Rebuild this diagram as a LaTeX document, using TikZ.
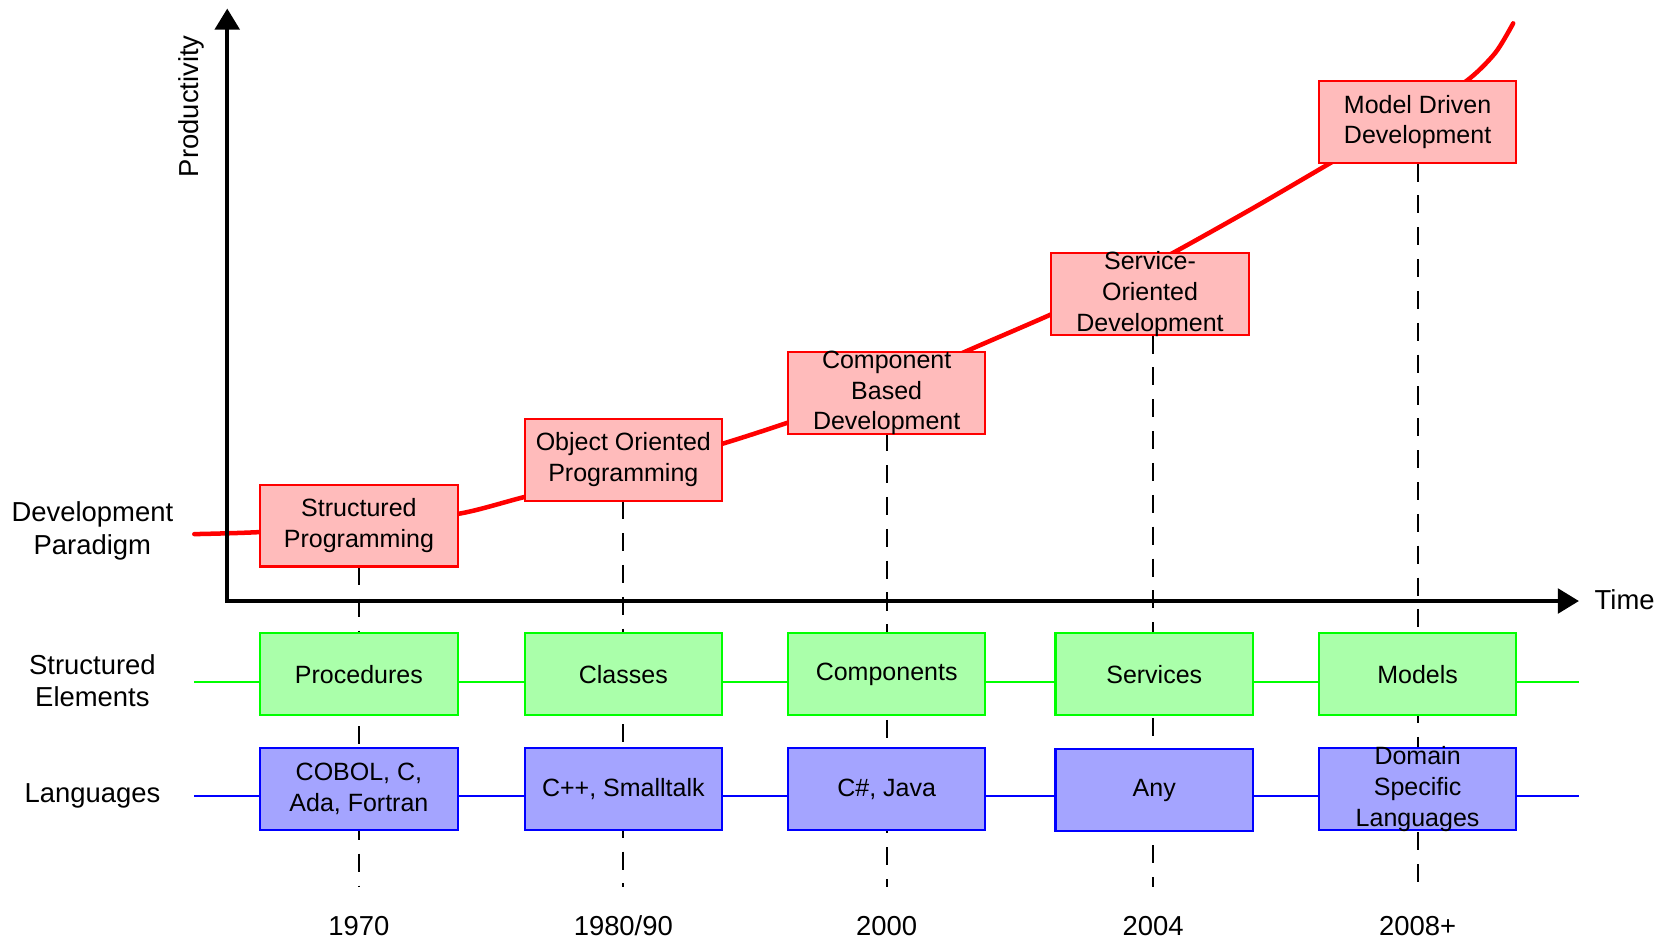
\documentclass[tikz,border=0pt]{standalone}
\usepackage{fontspec}
\setmainfont{Liberation Sans}
\usetikzlibrary{arrows.meta}

\definecolor{paradigmfill}{HTML}{FFBBBB}
\definecolor{elementfill}{HTML}{AAFFAA}
\definecolor{elementline}{HTML}{00FF00}
\definecolor{languagefill}{HTML}{A4A4FF}

\begin{document}
\begin{tikzpicture}[x=0.02cm, y=-0.02cm,
	every node/.style={font=\fontsize{14.7}{17.5}\selectfont, align=center},
	box/.style={draw, line width=0.4mm, minimum width=3.72cm, minimum height=1.54cm, inner sep=1pt, font=\fontsize{13.4}{16.5}\selectfont},
	paradigm/.style={box, draw=red, fill=paradigmfill},
	element/.style={box, draw=elementline, fill=elementfill},
	language/.style={box, draw=blue, fill=languagefill},
	tight/.style={inner ysep=-3pt},
	axis/.style={line width=0.85mm, {Triangle[length=4mm,width=4.6mm]}-{Triangle[length=4mm,width=4.6mm]}},
	guide/.style={line width=0.38mm, dash pattern=on 3.4mm off 2.6mm},
	trend/.style={red, line width=0.85mm, line cap=round}]

	\useasboundingbox (0,0) rectangle (1568,886);

	% Row labels on the left
	\node (paradigmlabel) at (87,500) {Development\\Paradigm};
	\node (elementlabel) at (87,641) {Structured\\Elements};
	\node (languagelabel) at (87,750) {Languages};
	\node[rotate=90] (productivity) at (180,100) {Productivity};
	\node (time) at (1530,565) {Time};

	% Years
	\node (y1970) at (338,872) {1970};
	\node (y1980) at (587,872) {1980/90};
	\node (y2000) at (835,872) {2000};
	\node (y2004) at (1086,872) {2004};
	\node (y2008) at (1335,872) {2008+};

	% Dashed guides down to the years
	\coordinate (top1970) at (338,534);
	\coordinate (top1980) at (587,472);
	\coordinate (top2000) at (835,408);
	\coordinate (top2004) at (1086,316);
	\coordinate (top2008) at (1335,154);
	\coordinate (end1970) at (338,835);
	\coordinate (end1980) at (587,835);
	\coordinate (end2000) at (835,835);
	\coordinate (end2004) at (1086,835);
	\coordinate (end2008) at (1335,835);
	\draw[guide] (top1970) -- (end1970);
	\draw[guide] (top1980) -- (end1980);
	\draw[guide] (top2000) -- (end2000);
	\draw[guide] (top2004) -- (end2004);
	\draw[guide] (top2008) -- (end2008);

	% Lines through the rows
	\coordinate (elementstart) at (183,642);
	\coordinate (elementend) at (1487,642);
	\coordinate (languagestart) at (183,750);
	\coordinate (languageend) at (1487,750);
	\draw[elementline, line width=0.4mm] (elementstart) -- (elementend);
	\draw[blue, line width=0.4mm] (languagestart) -- (languageend);

	% Productivity curve
	\draw[trend] plot[smooth, tension=0.45] coordinates {(183,503) (246,501) (338,494) (431,484) (494,468) (587,445) (680,418) (742,398) (835,366) (905,333) (990,296) (1048,268) (1105,238) (1180,196) (1252,154) (1320,114) (1380,77) (1408,50) (1425,22)};

	% Axes
	\coordinate (ytop) at (214,8);
	\coordinate (origin) at (214,566);
	\coordinate (xend) at (1487,566);
	\draw[axis] (ytop) -- (origin) -- (xend);

	% Development paradigms
	\node[paradigm] (sp) at (338,495) {Structured\\Programming};
	\node[paradigm] (oop) at (587,433) {Object Oriented\\Programming};
	\node[paradigm, tight] (cbd) at (835,370) {Component\\Based\\Development};
	\node[paradigm, tight] (sod) at (1083,277) {Service-\\Oriented\\Development};
	\node[paradigm] (mdd) at (1335,115) {Model Driven\\Development};

	% Structured elements
	\node[element] (procedures) at (338,635) {Procedures};
	\node[element] (classes) at (587,635) {Classes};
	\node[element] (components) at (835,635) {Components};
	\node[element] (services) at (1087,635) {Services};
	\node[element] (models) at (1335,635) {Models};

	% Languages
	\node[language] (cobol) at (338,743) {COBOL, C,\\Ada, Fortran};
	\node[language] (cpp) at (587,743) {C++, Smalltalk};
	\node[language] (csharp) at (835,743) {C\#, Java};
	\node[language] (any) at (1087,744) {Any};
	\node[language, tight] (dsl) at (1335,743) {Domain\\Specific\\Languages};
\end{tikzpicture}
\end{document}
